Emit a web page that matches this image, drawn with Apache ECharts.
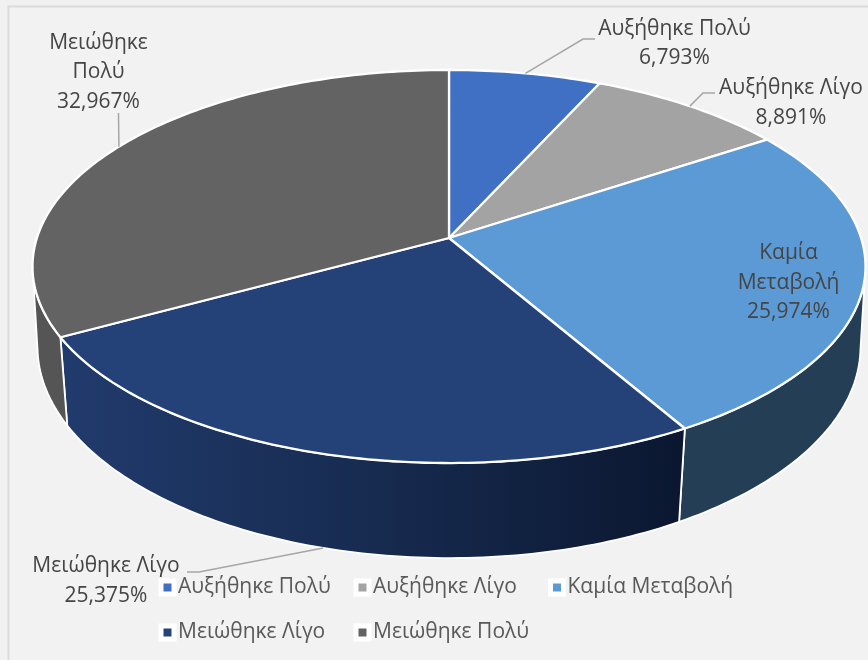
<!DOCTYPE html>
<html>
<head>
<meta charset="utf-8">
<style>html,body{margin:0;padding:0;background:#f1f1f1}#c{width:868px;height:660px}</style>
<script src="https://cdn.jsdelivr.net/npm/echarts@6/dist/echarts.min.js"></script>
</head>
<body>
<div id="c"></div>
<script>
var categories = ['Αυξήθηκε Πολύ', 'Αυξήθηκε Λίγο', 'Καμία Μεταβολή', 'Μειώθηκε Λίγο', 'Μειώθηκε Πολύ'];
var values = [6.793, 8.891, 25.974, 25.375, 32.967];
var labelNames = ['Αυξήθηκε Πολύ', 'Αυξήθηκε Λίγο', 'Καμία\nΜεταβολή', 'Μειώθηκε Λίγο', 'Μειώθηκε\nΠολύ'];

var topColors = ['#4070c3', '#a3a3a3', '#5b9ad5', '#244278', '#636363'];
var FONT = '"Open Sans", sans-serif', FS = 21, TXT = '#454545', LEG = '#595959';
// projective view of the disc
var TOP = {cx: 449, cy: 238, a: 412.1, b: 192.4, k: 0.145};
var LOW = {cx: 449, cy: 319, a: 408, b: 208, k: 0.13};
// label layout: centre of text, elbow points of the leader
var labelPos = [[674.5, 43.5], [791, 103], [788.5, 283], [106, 581], [98.5, 72.5]];
var leaderMid = [[[583, 39], [595, 39]], [[703, 93], [715, 93]], null, [[199, 572], [187, 572]], [[118.5, 113]]];
var legendPos = [[158.5, 577], [353.5, 577], [548, 577], [158.5, 622], [353.5, 622]];

function proj(d, deg) {
  var t = deg * Math.PI / 180, u = Math.sin(t), v = Math.cos(t), w = 1 + d.k * v;
  return [d.cx + d.a * u / w, d.cy - d.b * v / w];
}
function arc(d, a0, a1) {
  var pts = [], n = Math.max(2, Math.ceil(Math.abs(a1 - a0)));
  for (var i = 0; i <= n; i++) pts.push(proj(d, a0 + (a1 - a0) * i / n));
  return pts;
}
var total = values.reduce(function (s, v) { return s + v; }, 0);
function startAngle(i) {
  var s = 0;
  for (var j = 0; j < i; j++) s += values[j];
  return s / total * 360;
}
// the wall is visible only between the two silhouette angles
var SIL_R = Math.acos(-TOP.k) * 180 / Math.PI, SIL_L = 360 - SIL_R;
var wallFill = [
  '#8a8a8a', '#7c7c7c', '#243f55',
  new echarts.graphic.LinearGradient(0, 0, 1, 0, [
    {offset: 0, color: '#213b6d'}, {offset: 0.5, color: '#172b50'}, {offset: 1, color: '#0b1730'}
  ]),
  '#555555'
];

function renderSlice(i) {
  return function (params, api) {
    var a0 = startAngle(i), a1 = a0 + api.value(0) / total * 360, mid = (a0 + a1) / 2;
    var top = arc(TOP, a0, a1);
    var w0 = Math.max(a0, SIL_R), w1 = Math.min(a1, SIL_L);
    var children = [];
    if (w1 > w0) {
      children.push({
        type: 'polygon', z2: 1,
        shape: {points: arc(TOP, w0, w1).concat(arc(LOW, w0, w1).reverse())},
        style: {fill: wallFill[i], stroke: '#ffffff', lineWidth: 1.8, lineJoin: 'round'}
      });
    }
    children.push({
      type: 'polygon', z2: 2,
      shape: {points: [[TOP.cx, TOP.cy]].concat(top)},
      style: {fill: topColors[i], stroke: '#ffffff', lineWidth: 2.3, lineJoin: 'round'}
    });
    if (leaderMid[i]) {
      var start = proj(i === 3 ? LOW : TOP, mid);
      children.push({
        type: 'polyline', z2: 3,
        shape: {points: [start].concat(leaderMid[i])},
        style: {fill: null, stroke: '#a6a6a6', lineWidth: 1.5}
      });
    }
    children.push({
      type: 'text', z2: 4,
      style: {
        x: labelPos[i][0], y: labelPos[i][1],
        text: labelNames[i] + '\n' + api.value(0).toFixed(3).replace('.', ',') + '%',
        textAlign: 'center', textVerticalAlign: 'middle',
        fontSize: FS, fontFamily: FONT, fill: TXT, lineHeight: 29.5
      }
    });
    return {type: 'group', children: children};
  };
}

var series = categories.map(function (name, i) {
  return {
    type: 'custom', name: name, coordinateSystem: 'none',
    itemStyle: {color: topColors[i]},
    renderItem: renderSlice(i),
    silent: true,
    data: [values[i]]
  };
});
var legends = categories.map(function (name, i) {
  return {
    left: legendPos[i][0], top: legendPos[i][1], data: [name],
    orient: 'horizontal', icon: 'rect', itemWidth: 13, itemHeight: 13,
    itemStyle: {borderColor: '#ffffff', borderWidth: 5},
    textStyle: {fontSize: FS, fontFamily: FONT, color: LEG, lineHeight: 13, padding: [0, 0, 0, -1]},
    padding: 0, selectedMode: false
  };
});
var chart = echarts.init(document.getElementById('c'), null, {renderer: 'canvas'});
chart.setOption({
  animation: false,
  backgroundColor: '#f1f1f1',
  legend: legends,
  graphic: [{
    type: 'rect', z: -1, silent: true,
    shape: {x: 8.5, y: 6.5, width: 900, height: 700},
    style: {fill: '#f2f2f2', stroke: '#dcdcdc', lineWidth: 2}
  }],
  series: series
});
</script>
</body>
</html>
